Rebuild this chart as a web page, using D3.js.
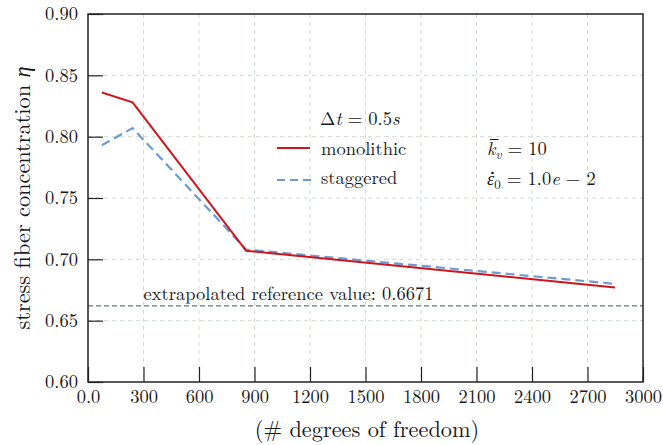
<!DOCTYPE html>
<html><head><meta charset="utf-8">
<script src="https://cdn.jsdelivr.net/npm/d3@7"></script>
<style>
html,body{margin:0;padding:0;background:#fff;}
</style></head>
<body><svg id="chart" width="663" height="445"></svg>
<script>
const dofs = [75, 241, 855, 2849];
const monolithic = [0.836, 0.828, 0.707, 0.677];
const staggered = [0.793, 0.807, 0.708, 0.680];
const referenceValue = 0.662;
const referenceLabel = "extrapolated reference value: 0.6671";
const xTicks = [0, 300, 600, 900, 1200, 1500, 1800, 2100, 2400, 2700, 3000];
const xTickLabels = ["0.0","300","600","900","1200","1500","1800","2100","2400","2700","3000"];
const yTicks = [0.60, 0.65, 0.70, 0.75, 0.80, 0.85, 0.90];
const yTickLabels = ["0.60","0.65","0.70","0.75","0.80","0.85","0.90"];

const FF = "'Latin Modern Roman', 'CMU Serif', 'Liberation Serif', serif";
const svg = d3.select("#chart").style("font-family", FF);
const m = {l:88, r:20, t:14, b:63};
const W = 663, H = 445;
const x = d3.scaleLinear().domain([0,3000]).range([m.l, W-m.r]);
const y = d3.scaleLinear().domain([0.60,0.90]).range([H-m.b, m.t]);
const TXT = "#1a1a1a";

// grid
const g = svg.append("g");
g.selectAll("line.vg").data(xTicks.slice(1,-1)).join("line")
  .attr("x1",d=>x(d)).attr("x2",d=>x(d)).attr("y1",y(0.9)).attr("y2",y(0.6))
  .attr("stroke","#cfdccf").attr("stroke-width",1).attr("stroke-dasharray","4,4");
g.selectAll("line.hg").data(yTicks.slice(1,-1)).join("line")
  .attr("y1",d=>y(d)).attr("y2",d=>y(d)).attr("x1",x(0)).attr("x2",x(3000))
  .attr("stroke","#cfdccf").attr("stroke-width",1).attr("stroke-dasharray","4,4");

// reference line
svg.append("line").attr("x1",x(0)).attr("x2",x(3000))
  .attr("y1",y(referenceValue)).attr("y2",y(referenceValue))
  .attr("stroke","#5f7878").attr("stroke-width",1.2).attr("stroke-dasharray","5,3");
svg.append("text").attr("x",x(300)).attr("y",y(referenceValue)-6)
  .style("font-family",FF).attr("font-size",18.5).attr("fill",TXT).text(referenceLabel);

// axes
const xAxis = d3.axisBottom(x).tickValues(xTicks).tickSize(-15).tickPadding(8)
  .tickFormat((d,i)=>xTickLabels[i]);
const yAxis = d3.axisLeft(y).tickValues(yTicks).tickSize(-15).tickPadding(10)
  .tickFormat((d,i)=>yTickLabels[i]);
const gx = svg.append("g").attr("transform",`translate(0,${y(0.6)})`).call(xAxis);
const gy = svg.append("g").attr("transform",`translate(${x(0)},0)`).call(yAxis);
[gx,gy].forEach(a=>{
  a.attr("font-family",null).style("font-family",FF);
  a.select(".domain").remove();
  a.selectAll(".tick line").attr("stroke","#222").attr("stroke-width",1.2);
  a.selectAll(".tick text").style("font-family",FF).attr("font-size",18.5).attr("fill",TXT);
});
// frame
svg.append("rect").attr("x",x(0)).attr("y",y(0.9)).attr("width",x(3000)-x(0)).attr("height",y(0.6)-y(0.9))
  .attr("fill","none").attr("stroke","#222").attr("stroke-width",1.5);

// lines
const line = d3.line().x((d,i)=>x(dofs[i])).y(d=>y(d));
svg.append("path").datum(staggered).attr("d",line).attr("fill","none")
  .attr("stroke","#6a9bd1").attr("stroke-width",2.2).attr("stroke-dasharray","9,5");
svg.append("path").datum(monolithic).attr("d",line).attr("fill","none")
  .attr("stroke","#d0141b").attr("stroke-width",2);

// legend
const lf = 18.5;
function txt(xp, yp){ return svg.append("text").attr("x",xp).attr("y",yp).style("font-family",FF).attr("font-size",lf).attr("fill",TXT); }
const t1 = txt(320,125);
t1.append("tspan").text("Δ");
t1.append("tspan").attr("font-style","italic").text("t");
t1.append("tspan").text(" = 0.5");
t1.append("tspan").attr("font-style","italic").text("s");
svg.append("line").attr("x1",277).attr("x2",310).attr("y1",148).attr("y2",148)
  .attr("stroke","#d0141b").attr("stroke-width",2);
txt(321,155).text("monolithic");
svg.append("line").attr("x1",277).attr("x2",312).attr("y1",180).attr("y2",180)
  .attr("stroke","#6a9bd1").attr("stroke-width",2.2).attr("stroke-dasharray","8,5");
txt(321,184).text("staggered");

const t2 = txt(487,155);
t2.append("tspan").attr("font-style","italic").text("k");
t2.append("tspan").attr("font-style","italic").attr("font-size",13).attr("dy",4).text("v");
t2.append("tspan").attr("dy",-4).text(" = 10");
// accent marks (macron over k, dot over epsilon)
svg.append("line").attr("x1",490).attr("x2",498.5).attr("y1",139.5).attr("y2",139.5)
  .attr("stroke",TXT).attr("stroke-width",1);
const t3 = txt(487,185);
t3.append("tspan").attr("font-style","italic").text("\u03B5");
t3.append("tspan").attr("font-size",13).attr("dy",4).text("0");
t3.append("tspan").attr("dy",-4).text(" = 1.0");
t3.append("tspan").attr("font-style","italic").text("e");
t3.append("tspan").text(" \u2212 2");
svg.append("circle").attr("cx",492.5).attr("cy",173).attr("r",1.3).attr("fill",TXT);

// axis labels
svg.append("text").attr("x",367).attr("y",437).attr("text-anchor","middle").style("font-family",FF)
  .attr("font-size",22.3).attr("fill",TXT).text("(# degrees of freedom)");
const yl = svg.append("text").attr("transform",`translate(30,${(y(0.6)+y(0.9))/2}) rotate(-90)`)
  .attr("text-anchor","middle").style("font-family",FF).attr("font-size",22.3).attr("fill",TXT);
yl.append("tspan").text("stress fiber concentration ");
yl.append("tspan").attr("font-style","italic").text("η");
</script></body></html>
